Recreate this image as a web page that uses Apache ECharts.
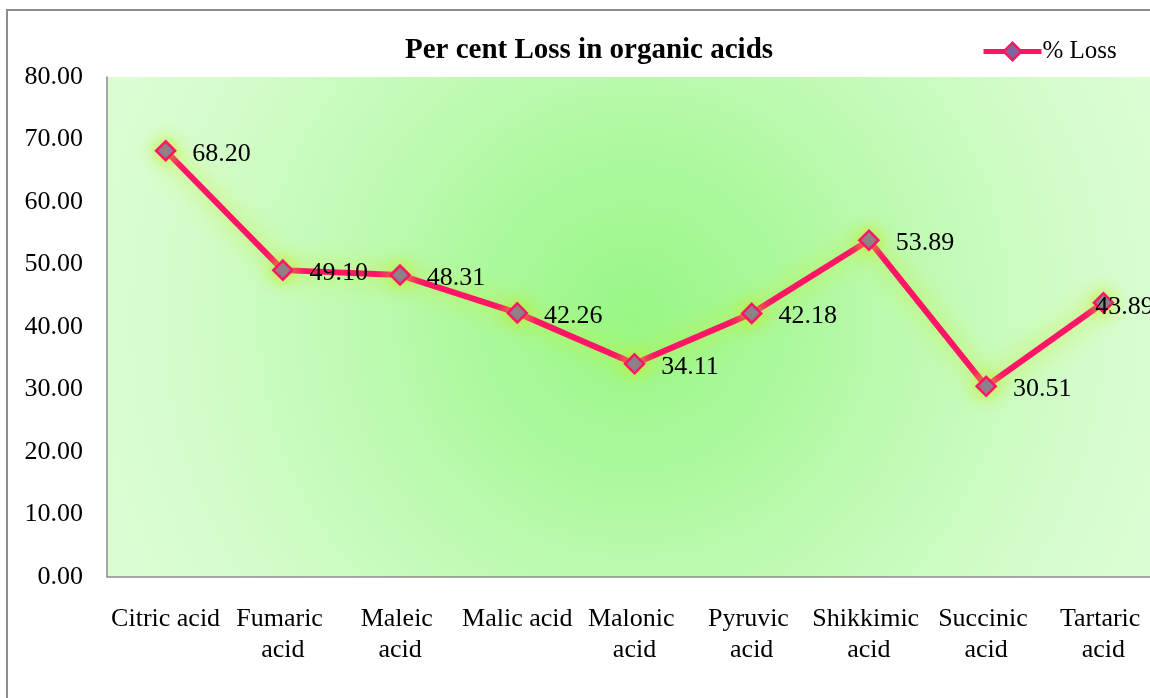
<!DOCTYPE html>
<html>
<head>
<meta charset="utf-8">
<script src="https://cdn.jsdelivr.net/npm/echarts@6/dist/echarts.min.js"></script>
<style>
  html, body { margin: 0; padding: 0; background: #ffffff; overflow: hidden; }
  /* the plot area runs a little past the right edge of the window */
  #chart { width: 1170px; height: 698px; }
</style>
</head>
<body>
<div id="chart"></div>
<script>
// Organic acids and their per cent loss
const categories = ['Citric acid', 'Fumaric acid', 'Maleic acid', 'Malic acid', 'Malonic acid',
  'Pyruvic acid', 'Shikkimic acid', 'Succinic acid', 'Tartaric acid'];
const lossValues = [68.20, 49.10, 48.31, 42.26, 34.11, 42.18, 53.89, 30.51, 43.89];
const yTicks = { min: 0, max: 80, interval: 10 };

const SERIF = '"Liberation Serif", "Times New Roman", serif';
const PINK = '#ff1466';
const GLOW = 'rgba(196, 238, 30, 1)';

const chart = echarts.init(document.getElementById('chart'), null, { renderer: 'canvas' });

const seriesData = lossValues.map(function (v, i) {
  const item = { value: v };
  if (i === lossValues.length - 1) {
    // last label sits over its marker so it stays near the plot edge
    item.label = { distance: -19, offset: [0, 4] };
  }
  return item;
});

chart.setOption({
  animation: false,
  backgroundColor: '#ffffff',
  title: {
    text: 'Per cent Loss in organic acids',
    left: 584,
    textAlign: 'center',
    top: 31,
    textStyle: { fontFamily: SERIF, fontWeight: 'bold', fontSize: 29, color: '#000' }
  },
  legend: {
    data: ['% Loss'],
    left: 976,
    top: 34,
    itemWidth: 58,
    itemHeight: 22,
    itemGap: 2,
    lineStyle: { width: 5, color: PINK },
    itemStyle: { color: '#8064a2', borderColor: PINK, borderWidth: 2.5 },
    textStyle: { fontFamily: SERIF, fontSize: 25, color: '#000', padding: [0, 0, 0, -4] }
  },
  graphic: [{
    type: 'rect',
    shape: { x: 7, y: 10, width: 1200, height: 800 },
    style: { fill: 'none', stroke: '#8c8c8c', lineWidth: 2 },
    silent: true,
    z: 100
  }],
  grid: {
    left: 107,
    top: 77,
    width: 1055,
    height: 500,
    show: true,
    borderWidth: 0,
    backgroundColor: {
      type: 'radial',
      x: 0.5, y: 0.48, r: 1.15,
      colorStops: [
        { offset: 0, color: '#98f785' },
        { offset: 0.25, color: '#aaf89b' },
        { offset: 0.5, color: '#bffab3' },
        { offset: 0.8, color: '#d4fccb' },
        { offset: 1, color: '#dcfdd4' }
      ]
    }
  },
  xAxis: {
    type: 'category',
    data: categories,
    boundaryGap: true,
    axisLine: { show: true, lineStyle: { color: '#8c8c8c', width: 1.5 } },
    axisTick: { show: false },
    axisLabel: {
      interval: 0,
      margin: 27,
      width: 116,
      overflow: 'break',
      lineHeight: 31,
      fontFamily: SERIF,
      fontSize: 26,
      color: '#000'
    }
  },
  yAxis: {
    type: 'value',
    min: yTicks.min,
    max: yTicks.max,
    interval: yTicks.interval,
    axisLine: { show: true, lineStyle: { color: '#8c8c8c', width: 1.5 } },
    axisTick: { show: false },
    splitLine: { show: false },
    axisLabel: {
      margin: 24,
      fontFamily: SERIF,
      fontSize: 26,
      color: '#000',
      formatter: function (v) { return v.toFixed(2); }
    }
  },
  series: [{
    name: '% Loss',
    type: 'line',
    data: seriesData,
    symbol: 'diamond',
    symbolSize: 19,
    lineStyle: {
      color: PINK,
      width: 6,
      shadowColor: GLOW,
      shadowBlur: 24
    },
    itemStyle: {
      color: '#8064a2',
      borderColor: PINK,
      borderWidth: 2.5,
      shadowColor: GLOW,
      shadowBlur: 16
    },
    label: {
      show: true,
      position: 'right',
      distance: 16,
      offset: [0, 3],
      fontFamily: SERIF,
      fontSize: 26,
      color: '#000',
      formatter: function (p) { return p.value.toFixed(2); }
    },
    z: 3
  }]
});
</script>
</body>
</html>
